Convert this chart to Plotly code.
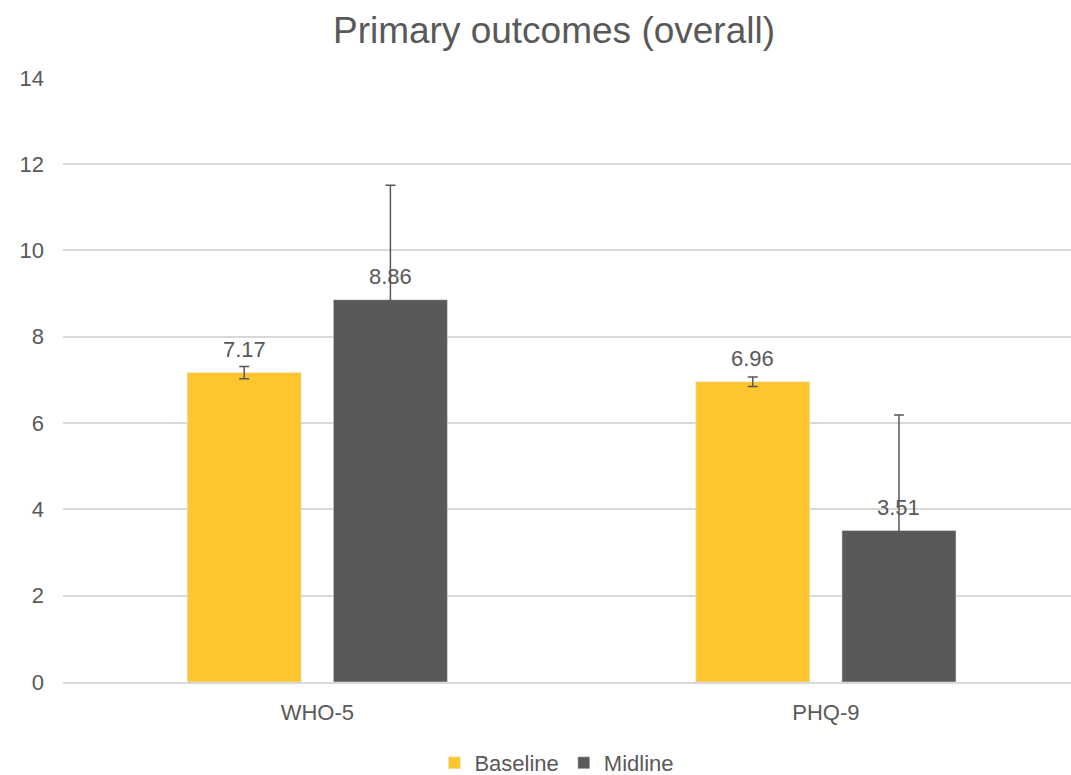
import plotly.graph_objects as go

categories = ["WHO-5", "PHQ-9"]
baseline = [7.17, 6.96]
baseline_err = [0.14, 0.11]
midline = [8.86, 3.51]
midline_err = [2.65, 2.68]
series_names = ["Baseline", "Midline"]
y_ticks = [0, 2, 4, 6, 8, 10, 12, 14]

YELLOW = "#FDC62F"
GRAY = "#595959"
TXT = "#595959"
FONT = "Liberation Sans, Arial, sans-serif"
FS = 22

fig = go.Figure()
fig.add_trace(go.Bar(
    name=series_names[0], x=categories, y=baseline, marker_color=YELLOW,
    error_y=dict(type="data", array=baseline_err, visible=True, color=GRAY, thickness=1.5, width=5),
))
fig.add_trace(go.Bar(
    name=series_names[1], x=categories, y=midline, marker_color=GRAY,
    error_y=dict(type="data", array=midline_err, visible=True, color=GRAY, thickness=1.5, width=5),
))

for vals, shift in ((baseline, -73), (midline, 73)):
    for c, v in zip(categories, vals):
        fig.add_annotation(x=c, y=v, text=f"{v:.2f}", showarrow=False, xshift=shift,
                           yshift=23, font=dict(size=FS, color=TXT, family=FONT))

fig.update_layout(
    width=1071, height=775,
    margin=dict(l=63, r=0, t=77, b=93, autoexpand=False),
    paper_bgcolor="white", plot_bgcolor="white",
    barmode="group", bargap=0.425, bargroupgap=0.22,
    font=dict(family=FONT, color=TXT, size=FS),
    title=dict(text="Primary outcomes (overall)", x=554/1071, xref="container", xanchor="center",
               y=1-30/775, yref="container", yanchor="middle",
               font=dict(size=37, color=TXT, family=FONT)),
    showlegend=True,
    legend=dict(orientation="h", x=0.49, xanchor="center", y=-(763-682)/605, yanchor="middle",
                yref="paper", font=dict(size=FS, color=TXT), itemwidth=30, tracegroupgap=0),
)
fig.update_xaxes(range=[-0.5, 1.482], showline=True, linecolor="#D9D9D9", linewidth=1.5,
                 ticks="", ticklabelstandoff=10, tickfont=dict(size=FS, color=TXT), automargin=False)
fig.update_yaxes(range=[0, 14.02], tickvals=y_ticks, showgrid=True, gridcolor="#D9D9D9", gridwidth=1.5,
                 zeroline=False, showline=False, ticks="", ticklabelstandoff=18,
                 tickfont=dict(size=FS, color=TXT), automargin=False)

fig.write_html("out.html", config={"displayModeBar": False},
               post_script="document.body.style.margin='0';")
